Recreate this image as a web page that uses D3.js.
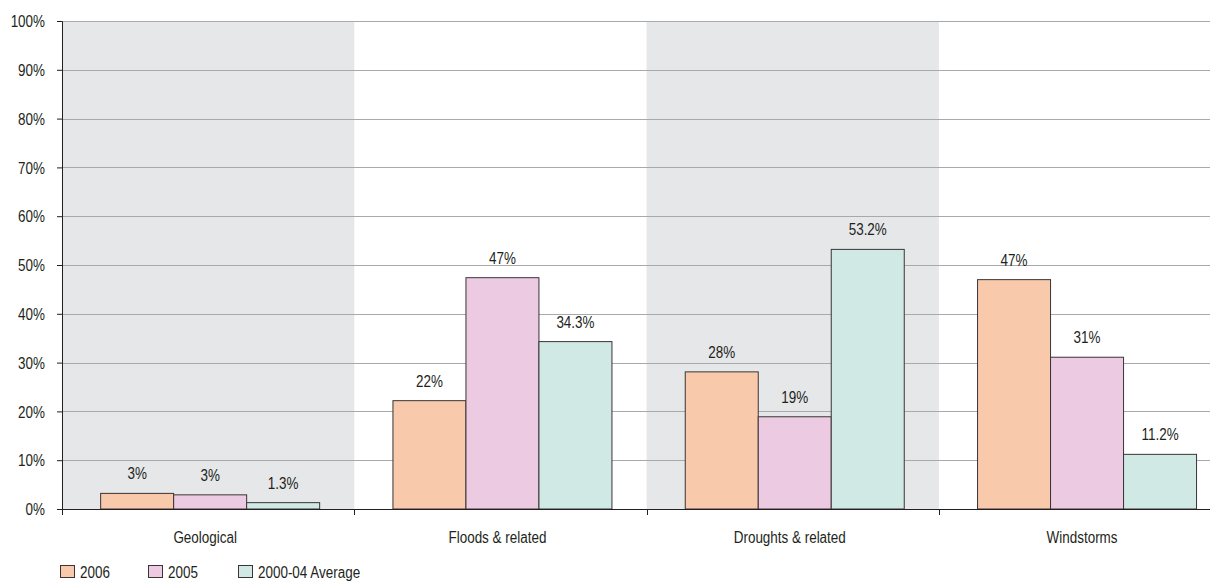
<!DOCTYPE html>
<html><head><meta charset="utf-8">
<script src="https://cdn.jsdelivr.net/npm/d3@7/dist/d3.min.js"></script>
<style>body{margin:0;background:#fff}svg{display:block}text{font-family:"Liberation Sans",Arial,sans-serif;fill:#231f20}</style>
</head><body><svg id="c" width="1210" height="581"></svg>
<script>
const categories = ["Geological", "Floods & related", "Droughts & related", "Windstorms"];
const seriesNames = ["2006", "2005", "2000-04 Average"];
const values2006 = [3.2, 22.2, 28.1, 47.0];
const values2005 = [2.9, 47.4, 18.9, 31.1];
const valuesAvg = [1.3, 34.3, 53.2, 11.2];
const yTicks = [0, 10, 20, 30, 40, 50, 60, 70, 80, 90, 100];
const colors = ["#f9c9ac", "#eccbe2", "#d0e9e5"];
const labelFormats = [d3.format(".0f"), d3.format(".0f"), d3.format(".1f")];

(function () {
const series = [values2006, values2005, valuesAvg];
const svg = d3.select("#c");
const FS = 16, NARROW = 0.84;
const mLeft = 62, mTop = 21, mBottom = 509, bandW = 292.3;
const x = d3.scaleBand().domain(categories).range([mLeft, mLeft + bandW * 4]).padding(0);
const groupW = 219;
const xs = d3.scaleBand().domain(seriesNames)
  .range([(x.bandwidth() - groupW) / 2 + 2, (x.bandwidth() + groupW) / 2 + 2]).padding(0);
const y = d3.scaleLinear().domain([0, 100]).range([mBottom, mTop]);

// shaded bands
svg.append("g").selectAll("rect").data(categories.filter((d, i) => i % 2 === 0)).join("rect")
  .attr("x", d => x(d)).attr("y", mTop).attr("width", x.bandwidth()).attr("height", mBottom - mTop)
  .attr("fill", "#e6e7e9");

// gridlines
svg.append("g").selectAll("line").data(yTicks.filter(t => t > 0)).join("line")
  .attr("x1", mLeft).attr("x2", 1210).attr("y1", d => Math.round(y(d)) + 0.5).attr("y2", d => Math.round(y(d)) + 0.5)
  .attr("stroke", "#a7a9ac").attr("stroke-width", 1.2);

// bars
const g = svg.append("g");
categories.forEach((c, ci) => {
  series.forEach((s, si) => {
    const bx = x(c) + xs(seriesNames[si]);
    g.append("rect").attr("x", bx).attr("y", y(s[ci])).attr("width", xs.bandwidth())
      .attr("height", mBottom - y(s[ci])).attr("fill", colors[si]).attr("stroke", "#3a3436").attr("stroke-width", 1);
    g.append("text").attr("x", bx + xs.bandwidth() / 2).attr("y", y(s[ci]) - 14)
      .attr("text-anchor", "middle").attr("font-size", FS).text(labelFormats[si](s[ci]) + "%");
  });
});

// y axis
const yAxis = d3.axisLeft(y).tickValues(yTicks).tickFormat(d => d + "%").tickSize(5).tickPadding(4);
const ya = svg.append("g").attr("transform", `translate(${mLeft},0)`).call(yAxis);
ya.select(".domain").attr("stroke", "#231f20");
ya.selectAll(".tick line").attr("stroke", "#231f20");
ya.selectAll(".tick text").attr("font-size", FS).attr("font-family", null).attr("fill", "#231f20").attr("dx", -8).attr("dy", "0.36em");

// x axis
svg.append("line").attr("x1", mLeft).attr("x2", 1210).attr("y1", mBottom + 0.5).attr("y2", mBottom + 0.5).attr("stroke", "#231f20");
const bounds = categories.map((c) => x(c)).concat([x(categories[3]) + x.bandwidth()]);
svg.append("g").selectAll("line").data(bounds).join("line")
  .attr("x1", d => Math.round(d) + 0.5).attr("x2", d => Math.round(d) + 0.5).attr("y1", mBottom).attr("y2", mBottom + 6)
  .attr("stroke", "#231f20");
svg.append("g").selectAll("text").data(categories).join("text")
  .attr("x", d => x(d) + x.bandwidth() / 2 - 3).attr("y", 543).attr("text-anchor", "middle").attr("font-size", FS).text(d => d);

// legend
const legX = [60, 148, 238];
const lg = svg.append("g");
seriesNames.forEach((n, i) => {
  lg.append("rect").attr("x", legX[i] + 0.5).attr("y", 565.5).attr("width", 14).attr("height", 12)
    .attr("fill", colors[i]).attr("stroke", "#3a3436");
  lg.append("text").attr("x", legX[i] + 20).attr("y", 578).attr("font-size", FS).text(n);
});

// condense all text to mimic a narrow face
svg.selectAll("text").each(function () {
  const w = this.getComputedTextLength();
  d3.select(this).attr("textLength", w * NARROW).attr("lengthAdjust", "spacingAndGlyphs");
});
})();
</script></body></html>
